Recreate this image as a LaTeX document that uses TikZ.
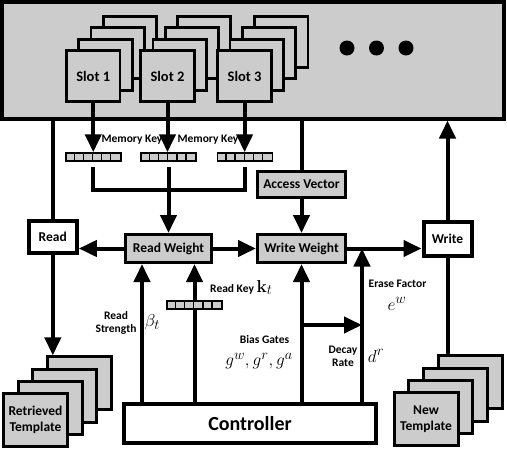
\documentclass[tikz,border=0pt]{standalone}
\usepackage[no-math]{fontspec}
\setmainfont{Carlito}
\usetikzlibrary{arrows.meta}
\definecolor{boxgray}{RGB}{204,204,204}
\tikzset{
  arr/.style={line width=4pt, -{Triangle[length=18pt,width=16pt]}},
  ln/.style={line width=4pt},
  membox/.style={draw, line width=4pt, fill=boxgray, inner sep=0pt},
  slotbox/.style={draw, line width=2.8pt, fill=boxgray, minimum width=53.5pt, minimum height=51pt, inner sep=0pt, font=\bfseries\fontsize{14.5}{16}\selectfont},
  tmplbox/.style={draw, line width=3pt, fill=boxgray, minimum width=64pt, minimum height=53pt, inner sep=0pt, align=center, font=\bfseries\fontsize{13.5}{16}\selectfont},
  graybox/.style={draw, line width=3pt, fill=boxgray, inner sep=0pt, font=\bfseries\fontsize{13.5}{15}\selectfont},
  whitebox/.style={draw, line width=4pt, fill=white, inner sep=0pt, font=\bfseries\fontsize{13.5}{15}\selectfont},
  keybar/.style={draw, line width=1.5pt, fill=boxgray, minimum width=55pt, minimum height=8pt, inner sep=0pt},
  lbl/.style={font=\bfseries\fontsize{11.5}{13}\selectfont, inner sep=0pt, align=center},
  mth/.style={font=\fontsize{19}{21}\selectfont, inner sep=0pt},
  dot/.style={circle, fill=black, minimum size=15pt, inner sep=0pt},
}
% name, x, y : key bar with six cells
\newcommand\keybarat[3]{%
  \node[keybar] (#1) at (#2,#3) {};
  \foreach \i in {1,...,5}
    \draw[line width=1.3pt] ([xshift=\i*9.1667pt]#1.south west) -- ([xshift=\i*9.1667pt]#1.north west);
}
% style, name, cx, cy, dx, dy, text
\newcommand\stackat[7]{%
  \foreach \k in {3,2,1}
    \node[#1] (#2-\k) at (#3+\k*#5, #4+\k*#6) {};
  \node[#1] (#2) at (#3,#4) {#7};
}
\begin{document}
\begin{tikzpicture}[x=1pt, y=-1pt]
\useasboundingbox (0,0) rectangle (507,450);

% memory
\node[membox, minimum width=502pt, minimum height=116.5pt] (mem) at (253,60.25) {};
\coordinate (l1) at (93,79);
\coordinate (l3) at (245,79);
\draw[line width=2pt] (l1) -- (l3);
\stackat{slotbox}{s1}{93.25}{76}{12.2}{-11.4}{Slot 1}
\stackat{slotbox}{s2}{167.5}{76}{12.2}{-11.4}{Slot 2}
\stackat{slotbox}{s3}{244.6}{76}{12.2}{-11.4}{Slot 3}
\node[dot] (d1) at (347,48) {};
\node[dot] (d2) at (376.5,48) {};
\node[dot] (d3) at (406,48) {};

% memory keys
\keybarat{k1}{93.25}{157}
\keybarat{k2}{168.5}{157}
\keybarat{k3}{245}{157}
\draw[arr] (s1.south) -- (s1.south |- k1.north);
\draw[arr] (s2.south) -- (s2.south |- k2.north);
\draw[arr] (s3.south) -- (s3.south |- k3.north);
\node[lbl] (mk1) at (132,140) {Memory Key};
\node[lbl] (mk2) at (208,140) {Memory Key};

% boxes
\node[whitebox, minimum width=48pt, minimum height=32pt] (rd) at (52.8,237) {Read};
\node[graybox, minimum width=86pt, minimum height=28pt] (rw) at (168.5,248.5) {Read Weight};
\node[graybox, minimum width=88pt, minimum height=28pt] (ww) at (301.5,248.5) {Write Weight};
\node[graybox, minimum width=88pt, minimum height=26pt] (av) at (301.5,184.5) {Access Vector};
\node[whitebox, minimum width=48pt, minimum height=34pt] (wr) at (447.5,238.5) {Write};
\node[draw, line width=4.5pt, fill=white, minimum width=252pt, minimum height=39pt, inner sep=0pt, font=\bfseries\fontsize{20}{22}\selectfont] (ctl) at (250,423.5) {Controller};

% templates
\stackat{tmplbox}{rt}{35.5}{420}{14.7}{-12.2}{Retrieved\\Template}
\stackat{tmplbox}{nt}{426}{419}{14.7}{-12.2}{New\\Template}

% key merge
\coordinate (j) at (168.5,190);
\draw[ln, shorten <=5pt, shorten >=5pt] (k1.south) |- (j) -| (k3.south);
\draw[ln, shorten <=5pt] (k2.south) -- (j);
\draw[arr] (j) -- (rw.north);

% read path
\draw[ln] (mem.south -| rd) -- (rd.north);
\draw[arr] (rd.south) -- (rd.south |- rt-3.north);
\draw[arr] (rw.west) -- (rw.west -| rd.east);
\draw[arr] (rw.east) -- (ww.west);

% access / write path
\draw[ln] (mem.south -| av) -- (av.north);
\draw[arr] (av.south) -- (ww.north);
\draw[arr] (ww.east) -- (ww.east -| wr.west);
\draw[arr] (wr.north) -- (wr.north |- mem.south);
\draw[ln] (wr.south) -- (wr.south |- nt-3.north);

% controller outputs
\coordinate (xrs) at (142,330);
\coordinate (xrk) at (194.5,305);
\coordinate (xef) at (362,330);
\coordinate (br) at (301.5,325);
\draw[arr] (xrs |- ctl.north) -- (xrs |- rw.south);
\draw[arr] (xrk |- ctl.north) -- (xrk |- rw.south);
\keybarat{rk}{194.5}{305}
\draw[arr] (ww.south |- ctl.north) -- (ww.south);
\draw[arr] (br) -- (br -| xef);
\draw[arr] (xef |- ctl.north) -- (xef |- ww.east);

% labels
\node[lbl] (lrs) at (116,322.5) {Read\\Strength};
\node[mth] (beta) at (152.5,322) {$\beta_t$};
\node[lbl, anchor=base west] (lrk) at (210,292) {Read Key {\fontsize{19}{21}\selectfont$\mathbf{k}_t$}};
\node[lbl] (lbg) at (264.5,339.5) {Bias Gates};
\node[mth] (gates) at (259,361) {$g^w, g^r, g^a$};
\node[lbl] (lef) at (397.5,283.5) {Erase Factor};
\node[mth] (ew) at (397,304) {$e^w$};
\node[lbl] (ldr) at (343,356) {Decay\\Rate};
\node[mth] (dr) at (376,356) {$d^r$};
\end{tikzpicture}
\end{document}
